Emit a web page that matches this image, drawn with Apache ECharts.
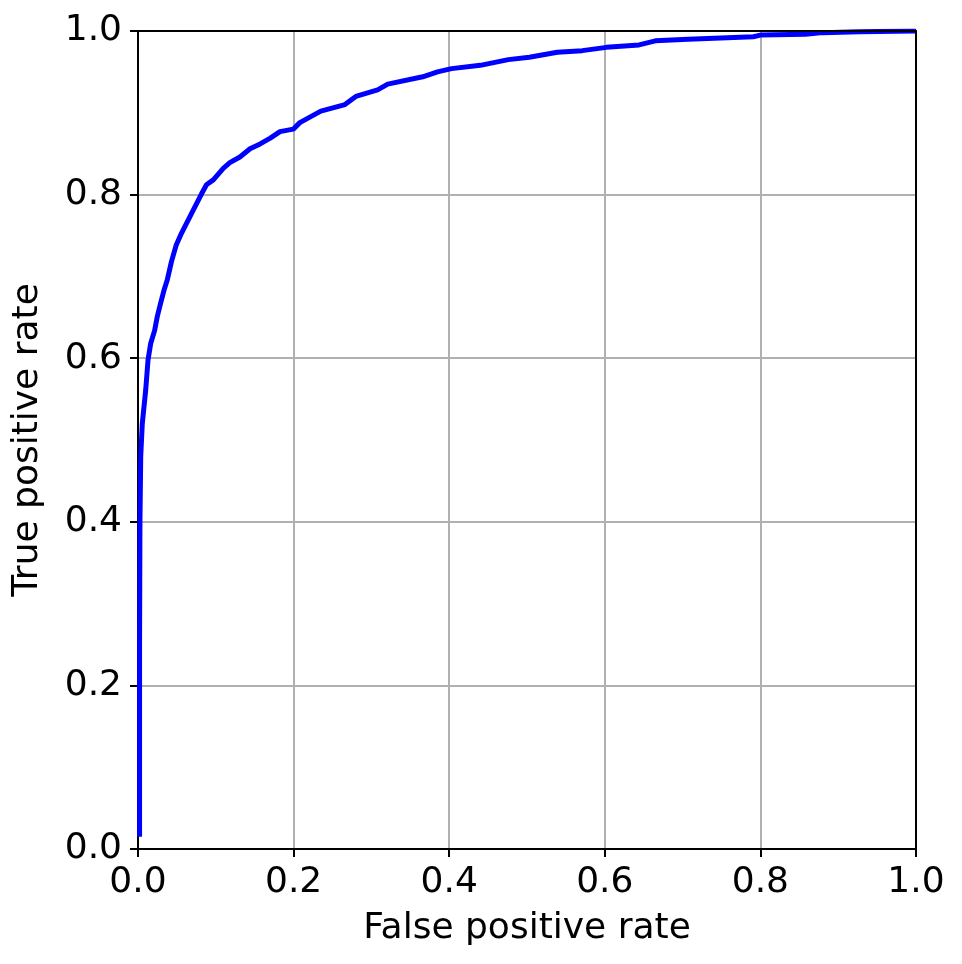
<!DOCTYPE html>
<html>
<head>
<meta charset="utf-8">
<script src="https://cdn.jsdelivr.net/npm/echarts@6/dist/echarts.min.js"></script>
<style>
html,body{margin:0;padding:0;background:#fff;}
#chart{width:962px;height:964px;}
</style>
</head>
<body>
<div id="chart"></div>
<script>
// ROC curve values
const fpr = [0.002, 0.002, 0.0025, 0.0035, 0.0055, 0.0099, 0.0129, 0.0163, 0.0214, 0.0248, 0.029, 0.0334, 0.0377, 0.043, 0.049, 0.056, 0.071, 0.0817, 0.088, 0.0968, 0.1096, 0.118, 0.131, 0.144, 0.157, 0.170, 0.1825, 0.1996, 0.208, 0.235, 0.266, 0.280, 0.308, 0.321, 0.366, 0.385, 0.403, 0.440, 0.476, 0.503, 0.539, 0.571, 0.602, 0.644, 0.665, 0.707, 0.791, 0.800, 0.858, 0.880, 0.927, 1.0];
const tpr = [0.015, 0.250, 0.400, 0.480, 0.520, 0.561, 0.598, 0.618, 0.634, 0.651, 0.667, 0.683, 0.696, 0.718, 0.738, 0.753, 0.781, 0.801, 0.812, 0.818, 0.832, 0.839, 0.846, 0.856, 0.862, 0.869, 0.877, 0.880, 0.888, 0.902, 0.910, 0.920, 0.928, 0.935, 0.944, 0.950, 0.954, 0.958, 0.965, 0.968, 0.974, 0.976, 0.980, 0.983, 0.988, 0.990, 0.993, 0.995, 0.996, 0.998, 0.999, 1.0];
const tickValues = [0.0, 0.2, 0.4, 0.6, 0.8, 1.0];
const xTitle = 'False positive rate';
const yTitle = 'True positive rate';

const points = fpr.map((x, i) => [x, tpr[i]]);
const font = 'DejaVu Sans';

const chart = echarts.init(document.getElementById('chart'), null, {renderer: 'canvas'});
const axisCommon = {
  type: 'value', min: 0, max: 1, interval: 0.2, z: 1,
  axisLine: {show: true, onZero: false, lineStyle: {color: '#000', width: 2}},
  axisTick: {show: true, inside: false, length: 8, lineStyle: {color: '#000', width: 2}},
  splitLine: {show: true, lineStyle: {color: '#b0b0b0', width: 2}},
  axisLabel: {color: '#000', fontSize: 36, fontFamily: font, formatter: v => tickValues.find(t => Math.abs(t - v) < 1e-9).toFixed(1)},
  nameLocation: 'middle',
  nameTextStyle: {color: '#000', fontSize: 36, fontFamily: font}
};
const frameAxis = {
  type: 'value', min: 0, max: 1, interval: 0.2, z: 10,
  axisLine: {show: true, onZero: false, lineStyle: {color: '#000', width: 2}},
  axisTick: {show: false}, axisLabel: {show: false}, splitLine: {show: false}
};
chart.setOption({
  animation: false,
  backgroundColor: '#fff',
  grid: {left: 138, right: 46, top: 31, bottom: 115},
  xAxis: [
    Object.assign({}, axisCommon, {name: xTitle, nameGap: 62, axisLabel: Object.assign({}, axisCommon.axisLabel, {margin: 16})}),
    Object.assign({}, frameAxis, {position: 'top'})
  ],
  yAxis: [
    Object.assign({}, axisCommon, {name: yTitle, nameGap: 92, axisLabel: Object.assign({}, axisCommon.axisLabel, {margin: 16})}),
    Object.assign({}, frameAxis, {position: 'right'})
  ],
  series: [{
    type: 'line', data: points, showSymbol: false, symbol: 'none',
    lineStyle: {color: '#0000ff', width: 5}, smooth: false, z: 3
  }]
});
</script>
</body>
</html>
